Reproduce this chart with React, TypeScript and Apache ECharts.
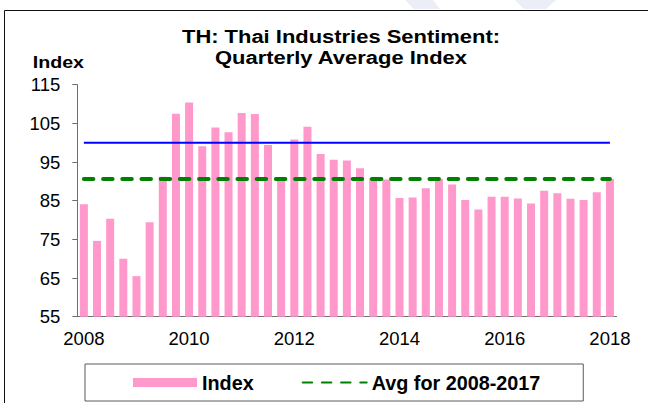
import React, { useEffect, useRef } from "react";
import * as echarts from "echarts";

const categories = [
  "2008Q1", "2008Q2", "2008Q3", "2008Q4",
  "2009Q1", "2009Q2", "2009Q3", "2009Q4",
  "2010Q1", "2010Q2", "2010Q3", "2010Q4",
  "2011Q1", "2011Q2", "2011Q3", "2011Q4",
  "2012Q1", "2012Q2", "2012Q3", "2012Q4",
  "2013Q1", "2013Q2", "2013Q3", "2013Q4",
  "2014Q1", "2014Q2", "2014Q3", "2014Q4",
  "2015Q1", "2015Q2", "2015Q3", "2015Q4",
  "2016Q1", "2016Q2", "2016Q3", "2016Q4",
  "2017Q1", "2017Q2", "2017Q3", "2017Q4",
  "2018Q1",
];

const indexValues = [
  84.1, 74.6, 80.3, 70.0,
  65.5, 79.4, 91.2, 107.5,
  110.4, 99.1, 103.9, 102.7,
  107.7, 107.4, 99.4, 90.5,
  100.8, 104.1, 97.1, 95.6,
  95.4, 93.4, 90.8, 90.5,
  85.7, 85.8, 88.2, 90.6,
  89.2, 85.2, 82.7, 86.0,
  86.0, 85.6, 84.3, 87.6,
  86.9, 85.5, 85.2, 87.2,
  90.6,
];

const xLabelYears = ["2008", "2010", "2012", "2014", "2016", "2018"];
const benchmarkLevel = 100;
const avgLevel = 90.6;

const titleLines = ["TH: Thai Industries Sentiment:", "Quarterly Average Index"];
const yAxisTitle = "Index";
const seriesNames = ["Index", "Avg for 2008-2017"];

const FONT = '"Liberation Sans", Arial, Helvetica, sans-serif';

export default function App() {
  const ref = useRef<HTMLDivElement>(null);

  useEffect(() => {
    if (!ref.current) return;
    const chart = echarts.init(ref.current, undefined, { renderer: "svg" });
    const first = categories[0];
    const last = categories[categories.length - 1];

    chart.setOption({
      animation: false,
      backgroundColor: "#ffffff",
      textStyle: { fontFamily: FONT },
      grid: { left: 77.3, right: 31.5, top: 84.7, bottom: 86.3 },
      xAxis: {
        type: "category",
        data: categories,
        boundaryGap: true,
        axisLine: { lineStyle: { color: "#6e6e6e", width: 1 } },
        axisTick: { interval: 3, length: 5, inside: false, lineStyle: { color: "#6e6e6e" } },
        axisLabel: {
          interval: 0,
          margin: 12.5,
          fontSize: 18.5,
          color: "#000",
          fontFamily: FONT,
          formatter: (v: string) => {
            const y = v.slice(0, 4);
            return v.endsWith("Q1") && xLabelYears.includes(y) ? y : "";
          },
        },
        splitLine: { show: false },
      },
      yAxis: {
        type: "value",
        min: 55,
        max: 115,
        interval: 10,
        axisLine: { show: true, lineStyle: { color: "#6e6e6e", width: 1 } },
        axisTick: { show: true, length: 5, lineStyle: { color: "#6e6e6e" } },
        axisLabel: { margin: 17, fontSize: 18.5, color: "#000", fontFamily: FONT },
        splitLine: { show: false },
      },
      legend: {
        data: [
          { name: seriesNames[0], icon: "rect" },
          { name: seriesNames[1], itemStyle: { opacity: 0 } },
        ],
        left: 85,
        top: 364,
        orient: "horizontal",
        selectedMode: false,
        padding: [8.5, 43, 8.5, 48],
        itemGap: 48,
        itemWidth: 64,
        itemHeight: 9,
        borderColor: "#5a5a5a",
        borderWidth: 1,
        textStyle: { fontSize: 19.8, fontWeight: "bold", color: "#000", fontFamily: FONT },
      },
      series: [
        {
          name: seriesNames[0],
          type: "bar",
          data: indexValues,
          barWidth: 8,
          itemStyle: { color: "#ff99cc" },
        },
        {
          name: "Benchmark",
          type: "line",
          data: [[first, benchmarkLevel], [last, benchmarkLevel]],
          symbol: "none",
          lineStyle: { color: "#0000ff", width: 2 },
          z: 3,
        },
        {
          name: seriesNames[1],
          type: "line",
          data: [[first, avgLevel], [last, avgLevel]],
          symbol: "none",
          itemStyle: { color: "#008000" },
          lineStyle: { color: "#008000", width: 4, type: [9.5, 9.7], cap: "round" },
          z: 4,
        },
      ],
      graphic: [
        {
          type: "rect",
          z: -10,
          silent: true,
          shape: { x: 4.5, y: 10.5, width: 720, height: 520 },
          style: { fill: "none", stroke: "#111", lineWidth: 1 },
        },
        {
          type: "polygon",
          z: -20,
          silent: true,
          shape: { points: [[405, 0], [433, 0], [440, 9], [414, 9]] },
          style: { fill: "#eceef7" },
        },
        {
          type: "polygon",
          z: -20,
          silent: true,
          shape: { points: [[515, 0], [556, 0], [546, 9], [524, 9]] },
          style: { fill: "#eceef7" },
        },
        {
          type: "text",
          x: 341,
          y: 36.2,
          scaleX: 1.18,
          style: {
            text: titleLines[0],
            font: `bold 18.6px ${FONT}`,
            fill: "#000",
            textAlign: "center",
            textVerticalAlign: "middle",
          },
        },
        {
          type: "text",
          x: 341,
          y: 57.3,
          scaleX: 1.18,
          style: {
            text: titleLines[1],
            font: `bold 18.6px ${FONT}`,
            fill: "#000",
            textAlign: "center",
            textVerticalAlign: "middle",
          },
        },
        {
          type: "text",
          x: 32.7,
          y: 62.8,
          scaleX: 1.19,
          style: {
            text: yAxisTitle,
            font: `bold 16.5px ${FONT}`,
            fill: "#000",
            textAlign: "left",
            textVerticalAlign: "middle",
          },
        },
      ],
    });

    return () => chart.dispose();
  }, []);

  return (
    <div
      ref={ref}
      style={{ position: "fixed", left: 0, top: 0, width: 648, height: 403, background: "#fff" }}
    />
  );
}
